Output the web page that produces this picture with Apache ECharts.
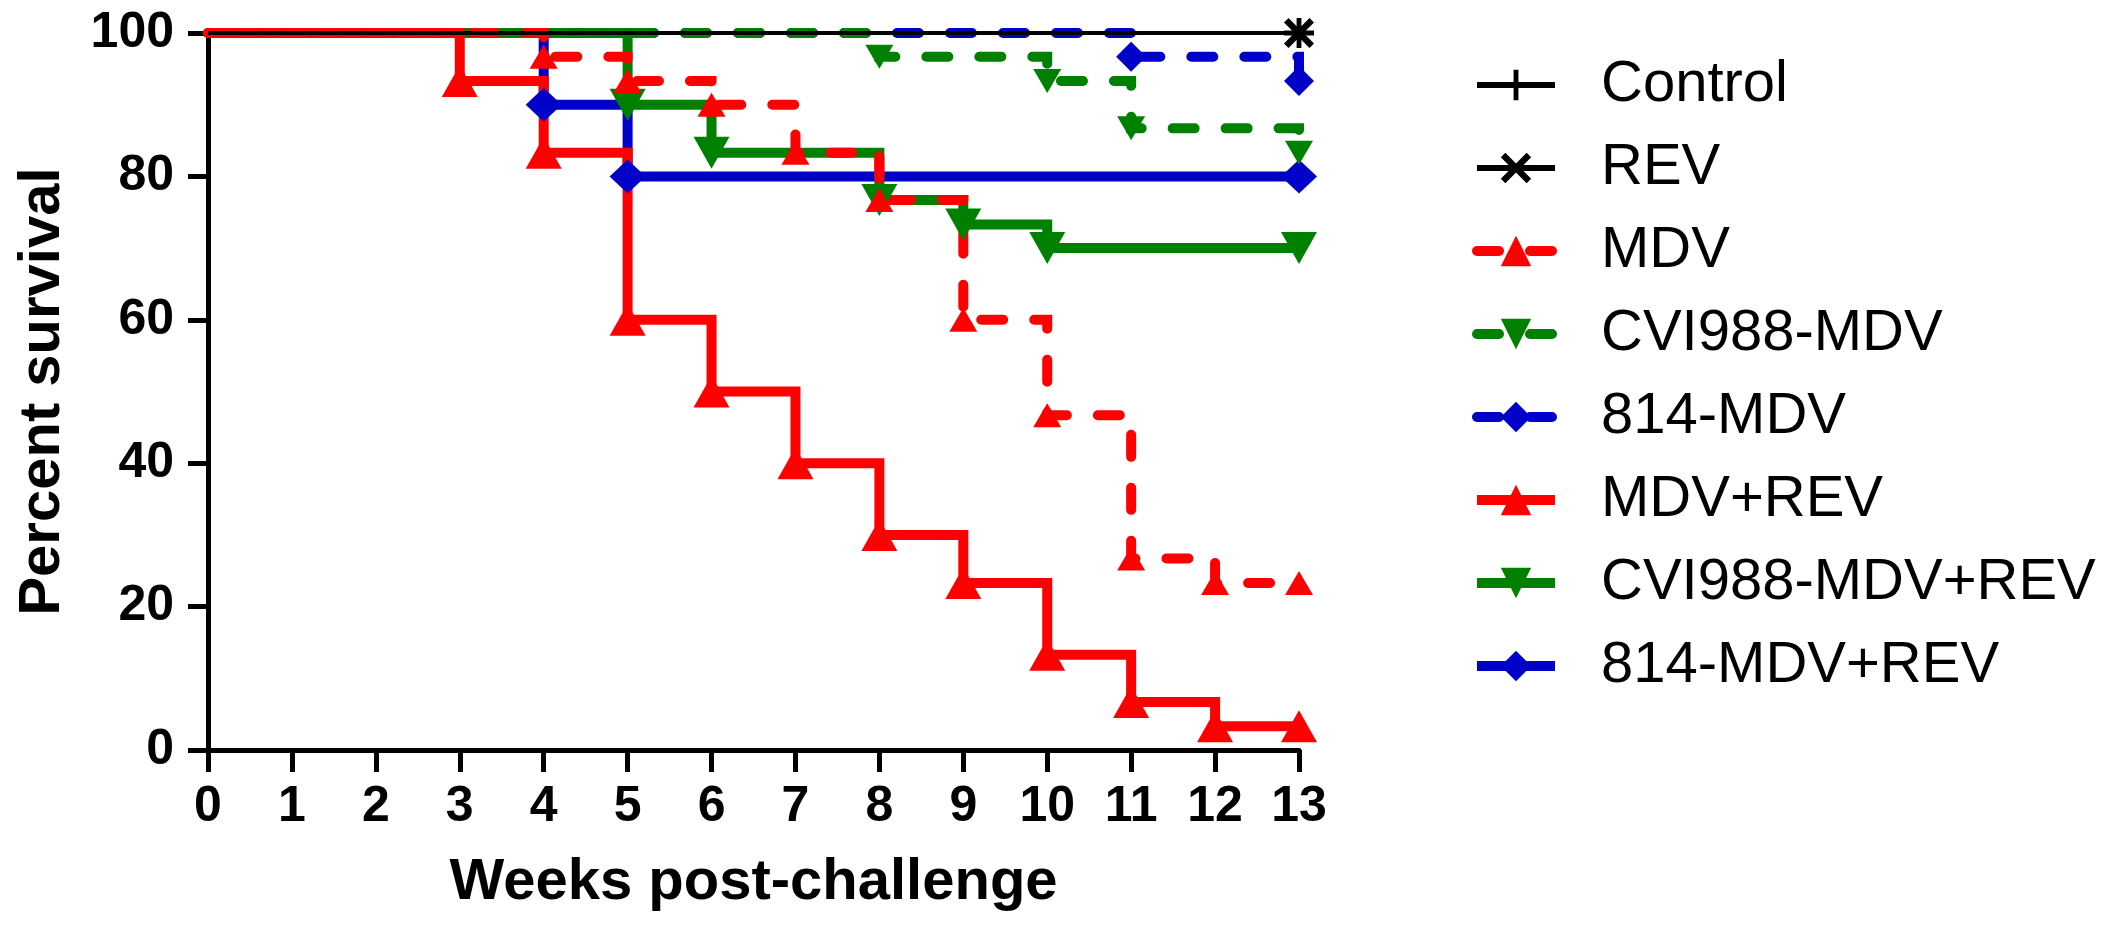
<!DOCTYPE html>
<html><head><meta charset="utf-8">
<script src="https://cdn.jsdelivr.net/npm/echarts@6/dist/echarts.min.js"></script>
<style>html,body{margin:0;padding:0;background:#fff}#c{width:2109px;height:933px}</style>
</head><body><div id="c"></div>
<script>
// ---- data ----
const seriesNames = ['Control','REV','MDV','CVI988-MDV','814-MDV','MDV+REV','CVI988-MDV+REV','814-MDV+REV'];
const controlT = [0, 13];
const controlV = [100, 100];
const revT = [0, 13];
const revV = [100, 100];
const mdvT = [0, 4, 5, 6, 7, 8, 9, 10, 11, 12, 13];
const mdvV = [100, 96.7, 93.3, 90, 83.3, 76.7, 60, 46.7, 26.7, 23.3, 23.3];
const cviMdvT = [0, 8, 10, 11, 13];
const cviMdvV = [100, 96.7, 93.3, 86.7, 83.3];
const m814MdvT = [0, 11, 13];
const m814MdvV = [100, 96.7, 93.3];
const mdvRevT = [0, 3, 4, 5, 6, 7, 8, 9, 10, 11, 12, 13];
const mdvRevV = [100, 93.3, 83.3, 60, 50, 40, 30, 23.3, 13.3, 6.7, 3.3, 3.3];
const cviMdvRevT = [0, 5, 6, 8, 9, 10, 13];
const cviMdvRevV = [100, 90, 83.3, 76.7, 73.3, 70, 70];
const m814MdvRevT = [0, 4, 5, 13];
const m814MdvRevV = [100, 90, 80, 80];
const xTicks = [0,1,2,3,4,5,6,7,8,9,10,11,12,13];
const yTicks = [0,20,40,60,80,100];

// ---- build ----
const FONT = 'Liberation Sans, Arial, sans-serif';
const RED = '#FF0000', GREEN = '#008000', BLUE = '#0000C8', BLACK = '#000000';
const PLUS = 'path://M-1.6,-10 L1.6,-10 L1.6,-1.6 L10,-1.6 L10,1.6 L1.6,1.6 L1.6,10 L-1.6,10 L-1.6,1.6 L-10,1.6 L-10,-1.6 L-1.6,-1.6 Z';
const CROSS = 'path://M-10,-7 L-7,-10 L10,7 L7,10 Z M7,-10 L10,-7 L-7,10 L-10,7 Z';
const DASH = [22, 31];

function pts(T, V) {
  return T.map((t, i) => i === 0 ? { value: [t, V[i]], symbol: 'none' } : [t, V[i]]);
}
function mk(name, T, V, color, symbol, size, rotate, dashed, width) {
  return {
    name: name, type: 'line', step: 'end', data: pts(T, V),
    symbol: symbol, symbolSize: size, symbolRotate: rotate, symbolKeepAspect: false,
    showAllSymbol: true, clip: false,
    lineStyle: { color: color, width: width, type: dashed ? DASH : 'solid', cap: dashed ? 'round' : 'butt', join: 'miter' },
    itemStyle: { color: color, opacity: 1 },
    emphasis: { disabled: true }, animation: false
  };
}
const sControl = mk(seriesNames[0], controlT, controlV, BLACK, PLUS, [30, 30], 0, false, 4);
const sRev = mk(seriesNames[1], revT, revV, BLACK, CROSS, [30, 30], 0, false, 4);
const sMdv = mk(seriesNames[2], mdvT, mdvV, RED, 'triangle', [28, 24], 0, true, 10);
const sCviMdv = mk(seriesNames[3], cviMdvT, cviMdvV, GREEN, 'triangle', [28, 24], 180, true, 10);
const s814Mdv = mk(seriesNames[4], m814MdvT, m814MdvV, BLUE, 'diamond', [30, 30], 0, true, 10);
const sMdvRev = mk(seriesNames[5], mdvRevT, mdvRevV, RED, 'triangle', [36, 32], 0, false, 10);
const sCviMdvRev = mk(seriesNames[6], cviMdvRevT, cviMdvRevV, GREEN, 'triangle', [36, 32], 180, false, 10);
const s814MdvRev = mk(seriesNames[7], m814MdvRevT, m814MdvRevV, BLUE, 'diamond', [36, 34], 0, false, 10);

const chart = echarts.init(document.getElementById('c'), null, { renderer: 'canvas' });
chart.setOption({
  backgroundColor: '#fff',
  animation: false,
  grid: { left: 208, right: 810, top: 33, bottom: 183, containLabel: false },
  legend: {
    orient: 'vertical', left: 1467, top: 50,
    itemWidth: 78, itemHeight: 38, itemGap: 23,
    selectedMode: false,
    data: seriesNames.map(n => (n === 'Control' || n === 'REV') ? { name: n, lineStyle: { width: 6 } } : { name: n }),
    lineStyle: { width: 10 },
    textStyle: { fontSize: 58, fontFamily: FONT, color: '#000', lineHeight: 60, padding: [0, 0, 0, 41] }
  },
  xAxis: {
    type: 'value', min: xTicks[0], max: xTicks[xTicks.length - 1], interval: 1,
    name: 'Weeks post-challenge', nameLocation: 'middle', nameGap: 104,
    nameTextStyle: { fontSize: 58, fontWeight: 'bold', fontFamily: FONT, color: '#000' },
    axisLine: { show: true, lineStyle: { color: '#000', width: 5 } },
    axisTick: { show: true, length: 22, lineStyle: { color: '#000', width: 5 } },
    axisLabel: { margin: 32, fontSize: 50, fontWeight: 'bold', fontFamily: FONT, color: '#000' },
    splitLine: { show: false }
  },
  yAxis: {
    type: 'value', min: yTicks[0], max: yTicks[yTicks.length - 1], interval: 20,
    name: 'Percent survival', nameLocation: 'middle', nameGap: 136, nameRotate: 90,
    nameTextStyle: { fontSize: 58, fontWeight: 'bold', fontFamily: FONT, color: '#000' },
    axisLine: { show: true, lineStyle: { color: '#000', width: 5 } },
    axisTick: { show: true, length: 20, lineStyle: { color: '#000', width: 5 } },
    axisLabel: { margin: 34, fontSize: 50, fontWeight: 'bold', fontFamily: FONT, color: '#000' },
    splitLine: { show: false }
  },
  // drawing order: first-listed group on top (as in the figure)
  series: [s814MdvRev, sCviMdvRev, sMdvRev, s814Mdv, sCviMdv, sMdv, sRev, sControl]
});
</script>
</body></html>
